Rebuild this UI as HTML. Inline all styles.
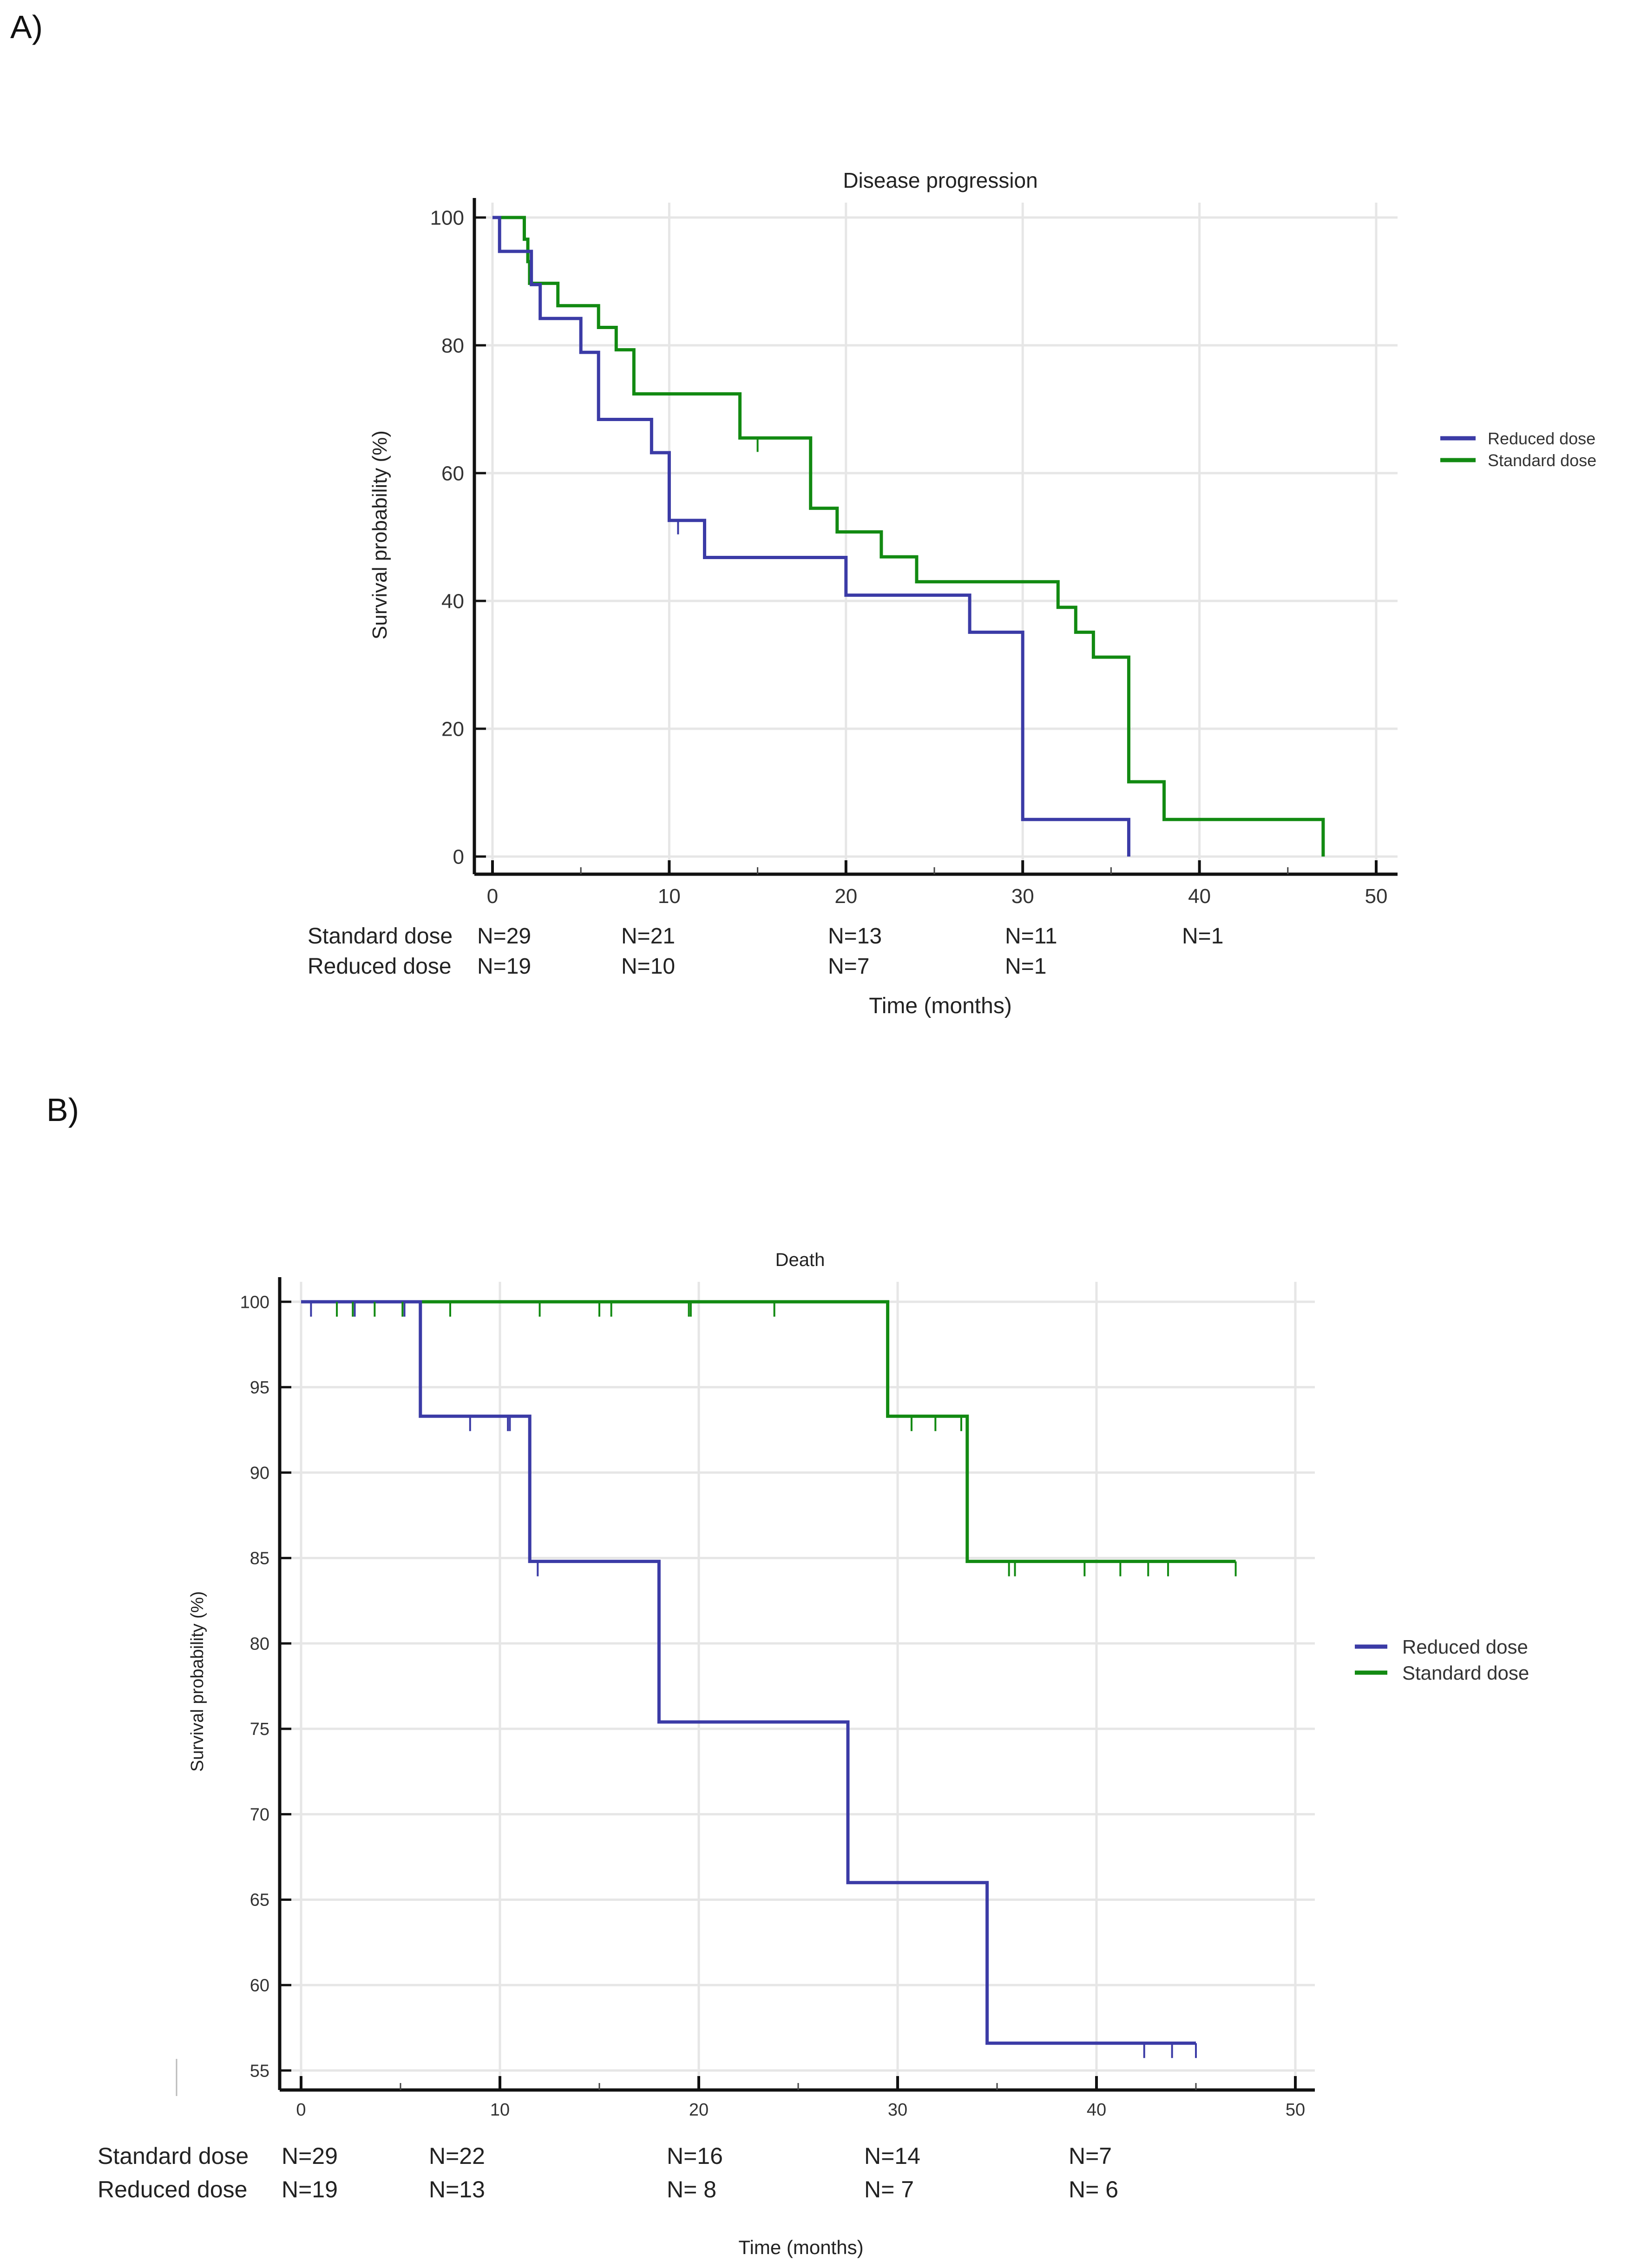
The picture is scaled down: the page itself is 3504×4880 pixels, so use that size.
<!DOCTYPE html>
<html><head><meta charset="utf-8"><style>
html,body{margin:0;padding:0;background:#fff;}
svg{display:block;font-family:"Liberation Sans",Arial,sans-serif;}
</style></head><body>
<svg id="svg" width="3504" height="4880" viewBox="0 0 3504 4880" xmlns="http://www.w3.org/2000/svg">
<text x="22" y="82" font-size="70" fill="#111" font-family="Liberation Sans">A)</text>
<text x="100" y="2412" font-size="70" fill="#111">B)</text>
<g id="A"></g>
<g id="B"></g>
<line x1="380" y1="4430" x2="380" y2="4510" stroke="#bbb" stroke-width="3"/>
</svg>
<script>
// Panel A data
const aXTicks=[0,10,20,30,40,50];
const aYTicks=[0,20,40,60,80,100];
const aRedT=[0,0.4,2.2,2.7,5,6,9,10,12,20,27,30,36];
const aRedS=[100,94.7,89.5,84.2,78.9,68.4,63.2,52.6,46.8,40.9,35.1,5.8,0];
const aStdT=[0,1.8,2.0,2.1,3.7,6,7,8,14,18,19.5,22,24,32,33,34,36,38,47];
const aStdS=[100,96.6,93.1,89.7,86.2,82.8,79.3,72.4,65.5,54.5,50.8,46.9,43.0,39.0,35.1,31.2,11.7,5.8,0];
const aRedCensT=[10.5];const aRedCensS=[52.6];
const aStdCensT=[15];const aStdCensS=[65.5];
const aNStd=["N=29","N=21","N=13","N=11","N=1"];
const aNRed=["N=19","N=10","N=7","N=1",""];
const aNX=[1027,1337,1782,2163,2544];
// Panel B data
const bXTicks=[0,10,20,30,40,50];
const bYTicks=[55,60,65,70,75,80,85,90,95,100];
const bRedT=[0,6,11.5,18,27.5,34.5,45];
const bRedS=[100,93.3,84.8,75.4,66.0,56.6,56.6];
const bStdT=[0,29.5,33.5,47];
const bStdS=[100,93.3,84.8,84.8];
const bRedCensT=[0.5,2.7,5.2,8.5,10.4,10.5,11.9,42.4,43.8,45];
const bRedCensS=[100,100,100,93.3,93.3,93.3,84.8,56.6,56.6,56.6];
const bStdCensT=[1.8,2.6,3.7,5.1,7.5,12,15,15.6,19.5,19.6,23.8,30.7,31.9,33.2,35.6,35.9,39.4,41.2,42.6,43.6,47];
const bStdCensS=[100,100,100,100,100,100,100,100,100,100,100,93.3,93.3,93.3,84.8,84.8,84.8,84.8,84.8,84.8,84.8];
const bNStd=["N=29","N=22","N=16","N=14","N=7"];
const bNRed=["N=19","N=13","N= 8","N= 7","N= 6"];
const bNX=[606,923,1435,1860,2300];

const NS="http://www.w3.org/2000/svg";
function el(parent,tag,attrs,text){const e=document.createElementNS(NS,tag);for(const k in attrs)e.setAttribute(k,attrs[k]);if(text!==undefined)e.textContent=text;parent.appendChild(e);return e;}
const BLUE="#3b3ba6",GREEN="#128a12";

function chart(g,cfg){
  const X=v=>cfg.x0+(v-cfg.xmin)/(cfg.xmax-cfg.xmin)*(cfg.x1-cfg.x0);
  const Y=v=>cfg.y0+(cfg.ymax-v)/(cfg.ymax-cfg.ymin)*(cfg.y1-cfg.y0);
  // grid
  cfg.xTicks.forEach(t=>{const l=el(g,'line',{x1:X(t),x2:X(t),y1:cfg.gtop,y2:cfg.axY,stroke:'#e6e6e6','stroke-width':5});
    });
  cfg.yTicks.forEach(t=>{const l=el(g,'line',{x1:cfg.axX,x2:cfg.gright,y1:Y(t),y2:Y(t),stroke:'#e6e6e6','stroke-width':5});
    });
  // axes
  let a=el(g,'line',{x1:cfg.axX,x2:cfg.axX,y1:cfg.gtop-10,y2:cfg.axY,stroke:'#111','stroke-width':7});
  
  a=el(g,'line',{x1:cfg.axX,x2:cfg.gright,y1:cfg.axY,y2:cfg.axY,stroke:'#111','stroke-width':7});
  
  cfg.xTicks.forEach((t,i)=>{
    const tk=el(g,'line',{x1:X(t),x2:X(t),y1:cfg.axY-30,y2:cfg.axY,stroke:'#111','stroke-width':6});
    
    if(i<cfg.xTicks.length-1){const m=el(g,'line',{x1:X(t+5),x2:X(t+5),y1:cfg.axY-15,y2:cfg.axY,stroke:'#444','stroke-width':3});
      }
    const tx=el(g,'text',{x:X(t),y:cfg.axY+cfg.xlabOff,'font-size':cfg.tickFs,'text-anchor':'middle',fill:'#333'},String(t));
    
  });
  cfg.yTicks.forEach(t=>{
    const tk=el(g,'line',{x1:cfg.axX,x2:cfg.axX+25,y1:Y(t),y2:Y(t),stroke:'#111','stroke-width':5});
    
    const tx=el(g,'text',{x:cfg.axX-22,y:Y(t)+cfg.tickFs*0.35,'font-size':cfg.tickFs,'text-anchor':'end',fill:'#333'},String(t));
    
  });
  // curves
  function step(T,S,color,name){
    let d=`M${X(T[0])},${Y(S[0])}`;
    for(let i=1;i<T.length;i++){d+=` H${X(T[i])} V${Y(S[i])}`;}
    const p=el(g,'path',{d:d,fill:'none',stroke:color,'stroke-width':7});
    
  }
  function cens(T,S,color,name){
    T.forEach((t,i)=>{const c=el(g,'line',{x1:X(t),x2:X(t),y1:Y(S[i]),y2:Y(S[i])+cfg.censLen,stroke:color,'stroke-width':4});
      });
  }
  step(cfg.stdT,cfg.stdS,GREEN,'standard-dose-curve');
  step(cfg.redT,cfg.redS,BLUE,'reduced-dose-curve');
  cens(cfg.stdCT,cfg.stdCS,GREEN,'standard-censor-mark');
  cens(cfg.redCT,cfg.redCS,BLUE,'reduced-censor-mark');
  // title, y label
  let t=el(g,'text',{x:cfg.titleX,y:cfg.titleY,'font-size':cfg.titleFs,'text-anchor':'middle',fill:'#222'},cfg.title);
  
  t=el(g,'text',{x:0,y:0,'font-size':cfg.ylabFs,'text-anchor':'middle',fill:'#222',transform:`translate(${cfg.ylabX},${cfg.ylabY}) rotate(-90)`},'Survival probability (%)');
  
  // legend
  [['Reduced dose',BLUE,cfg.legY1],['Standard dose',GREEN,cfg.legY2]].forEach(([lab,col,y])=>{
    const l=el(g,'line',{x1:cfg.legX,x2:cfg.legX+cfg.legLen,y1:y,y2:y,stroke:col,'stroke-width':9});
    
    const tx=el(g,'text',{x:cfg.legX+cfg.legLen+cfg.legGap,y:y+cfg.legFs*0.36,'font-size':cfg.legFs,fill:'#333'},lab);
    
  });
  // at-risk table
  t=el(g,'text',{x:cfg.tabX,y:cfg.tabY1,'font-size':cfg.tabFs,fill:'#222'},'Standard dose');
  
  t=el(g,'text',{x:cfg.tabX,y:cfg.tabY2,'font-size':cfg.tabFs,fill:'#222'},'Reduced dose');
  
  cfg.nStd.forEach((s,i)=>{const e=el(g,'text',{x:cfg.nX[i],y:cfg.tabY1,'font-size':cfg.tabFs,fill:'#222'},s);
    });
  cfg.nRed.forEach((s,i)=>{const e=el(g,'text',{x:cfg.nX[i],y:cfg.tabY2,'font-size':cfg.tabFs,fill:'#222'},s);
    });
  t=el(g,'text',{x:cfg.timeX,y:cfg.timeY,'font-size':cfg.timeFs,'text-anchor':'middle',fill:'#222'},'Time (months)');
  
}

chart(document.getElementById('A'),{
  xmin:0,xmax:50,ymin:0,ymax:100,x0:1060,x1:2962,y0:468,y1:1843,
  axX:1021,axY:1881,gtop:436,gright:3008,xTicks:aXTicks,yTicks:aYTicks,tickFs:44,xlabOff:62,censLen:30,
  stdT:aStdT,stdS:aStdS,redT:aRedT,redS:aRedS,stdCT:aStdCensT,stdCS:aStdCensS,redCT:aRedCensT,redCS:aRedCensS,
  title:'Disease progression',titleX:2024,titleY:404,titleFs:46,
  ylabX:832,ylabY:1151,ylabFs:44,
  legX:3100,legLen:76,legGap:26,legY1:943,legY2:990,legFs:36,
  tabX:662,tabY1:2030,tabY2:2095,tabFs:48,nStd:aNStd,nRed:aNRed,nX:aNX,
  timeX:2024,timeY:2180,timeFs:48
});
chart(document.getElementById('B'),{
  xmin:0,xmax:50,ymin:55,ymax:100,x0:648,x1:2788,y0:2801,y1:4455,
  axX:602,axY:4497,gtop:2758,gright:2830,xTicks:bXTicks,yTicks:bYTicks,tickFs:38,xlabOff:55,censLen:32,
  stdT:bStdT,stdS:bStdS,redT:bRedT,redS:bRedS,stdCT:bStdCensT,stdCS:bStdCensS,redCT:bRedCensT,redCS:bRedCensS,
  title:'Death',titleX:1722,titleY:2724,titleFs:40,
  ylabX:437,ylabY:3618,ylabFs:38,
  legX:2916,legLen:70,legGap:32,legY1:3543,legY2:3599,legFs:42,
  tabX:210,tabY1:4656,tabY2:4728,tabFs:50,nStd:bNStd,nRed:bNRed,nX:bNX,
  timeX:1724,timeY:4850,timeFs:42
});
</script>
</body></html>
